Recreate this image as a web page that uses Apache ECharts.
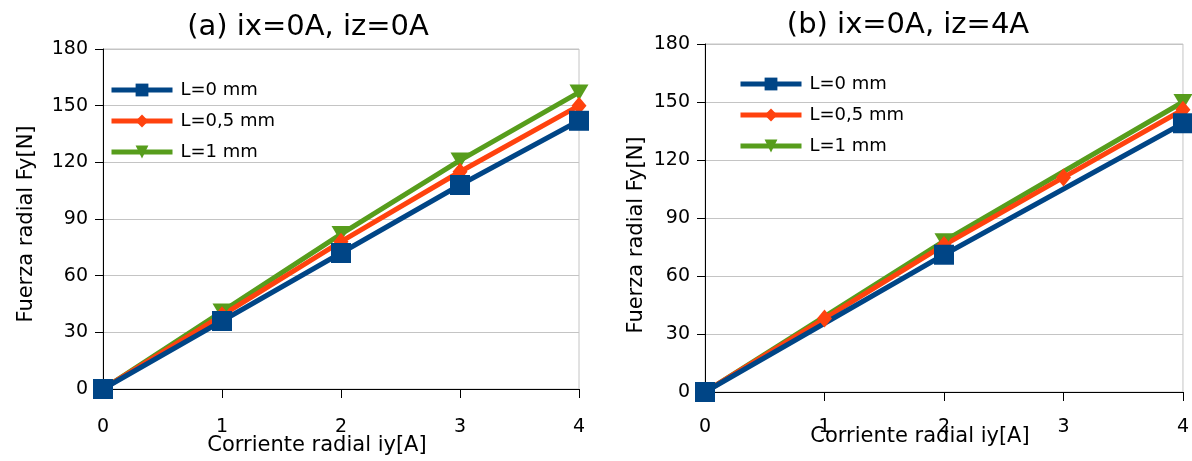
<!DOCTYPE html>
<html>
<head>
<meta charset="utf-8">
<script src="https://cdn.jsdelivr.net/npm/echarts@6/dist/echarts.min.js"></script>
<style>
  html, body { margin: 0; padding: 0; background: #fff; }
  #chart { width: 1192px; height: 461px; }
</style>
</head>
<body>
<div id="chart"></div>
<script>
  // corriente radial iy [A]
  var corriente = [0, 1, 2, 3, 4]
  var nombres = ['L=0 mm', 'L=0,5 mm', 'L=1 mm']

  // (a) ix=0A, iz=0A
  var a_L0 = [0, 36, 72, 108, 142]
  var a_L05 = [0, 39, 78, 115, 150]
  var a_L1 = [0, 41, 82, 121, 157]

  // (b) ix=0A, iz=4A  -- L=0 y L=1 sin punto en 1 y 3
  var b_L0 = [0, null, 71, null, 139]
  var b_L05 = [0, 38, 76, 111, 146]
  var b_L1 = [0, null, 78, null, 150]

  var AZUL = '#004586', ROJO = '#ff420e', VERDE = '#579d1c'
  var FUENTE = 'DejaVu Sans'

  function pares(vals) {
    return corriente.map(function (x, i) { return [x, vals[i]] })
      .filter(function (p) { return p[1] !== null })
  }

  function serie(nombre, vals, idx, color, simbolo, tam, rot) {
    return {
      name: nombre,
      type: 'line',
      xAxisIndex: idx,
      yAxisIndex: idx,
      data: pares(vals),
      symbol: simbolo,
      symbolSize: tam,
      symbolRotate: rot || 0,
      showAllSymbol: true,
      clip: false,
      color: color,
      lineStyle: {width: 5, color: color},
      itemStyle: {color: color}
    }
  }

  function ejeX(idx, gap, margen) {
    return {
      type: 'value', gridIndex: idx, min: 0, max: 4, interval: 1,
      name: 'Corriente radial iy[A]', nameLocation: 'middle', nameGap: gap,
      nameMoveOverlap: false,
      nameTextStyle: {fontFamily: FUENTE, fontSize: 21, color: '#000', padding: [0, 48, 0, 0]},
      axisLine: {show: true, onZero: false, lineStyle: {color: '#000', width: 1}},
      axisTick: {show: true, length: 9, lineStyle: {color: '#000'}},
      axisLabel: {fontFamily: FUENTE, fontSize: 19, color: '#000', margin: margen},
      splitLine: {show: false}
    }
  }

  function ejeY(idx, gap, desplaza) {
    return {
      type: 'value', gridIndex: idx, min: 0, max: 180, interval: 30,
      name: 'Fuerza radial Fy[N]', nameLocation: 'middle', nameGap: gap,
      nameMoveOverlap: false,
      nameTextStyle: {fontFamily: FUENTE, fontSize: 21, color: '#000', padding: [0, desplaza, 0, 0]},
      axisLine: {show: true, lineStyle: {color: '#000', width: 1}},
      axisTick: {show: true, length: 8, lineStyle: {color: '#000'}},
      axisLabel: {fontFamily: FUENTE, fontSize: 19, color: '#000', margin: 15},
      splitLine: {show: true, lineStyle: {color: '#c4c4c4', width: 1}}
    }
  }

  function leyenda(left, top) {
    return {
      data: nombres, orient: 'vertical', left: left, top: top, padding: 0,
      itemWidth: 61, itemHeight: 16, itemGap: 13,
      lineStyle: {width: 5},
      textStyle: {fontFamily: FUENTE, fontSize: 18, color: '#000', padding: [0, 0, 0, 3]}
    }
  }

  var myChart = echarts.init(document.getElementById('chart'))
  myChart.setOption({
    animation: false,
    backgroundColor: '#fff',
    title: [
      {text: '(a) ix=0A, iz=0A', left: 303, top: 8, textAlign: 'center',
        textStyle: {fontFamily: FUENTE, fontSize: 29, fontWeight: 'normal', color: '#000'}},
      {text: '(b) ix=0A, iz=4A', left: 903, top: 6, textAlign: 'center',
        textStyle: {fontFamily: FUENTE, fontSize: 29, fontWeight: 'normal', color: '#000'}}
    ],
    legend: [leyenda(109, 81), leyenda(738, 75)],
    grid: [
      {left: 103, top: 49, width: 476, height: 344, show: true, borderColor: '#c4c4c4', borderWidth: 1},
      {left: 705, top: 44, width: 478, height: 348, show: true, borderColor: '#c4c4c4', borderWidth: 1}
    ],
    xAxis: [ejeX(0, 46, 29), ejeX(1, 34, 26)],
    yAxis: [ejeY(0, 66, 10), ejeY(1, 58, 34)],
    series: [
      serie('L=1 mm', a_L1, 0, VERDE, 'triangle', [19, 16], 180),
      serie('L=0,5 mm', a_L05, 0, ROJO, 'diamond', [15, 18]),
      serie('L=0 mm', a_L0, 0, AZUL, 'rect', 20),
      serie('L=1 mm', b_L1, 1, VERDE, 'triangle', [19, 16], 180),
      serie('L=0,5 mm', b_L05, 1, ROJO, 'diamond', [15, 18]),
      serie('L=0 mm', b_L0, 1, AZUL, 'rect', 20)
    ]
  })
</script>
</body>
</html>
